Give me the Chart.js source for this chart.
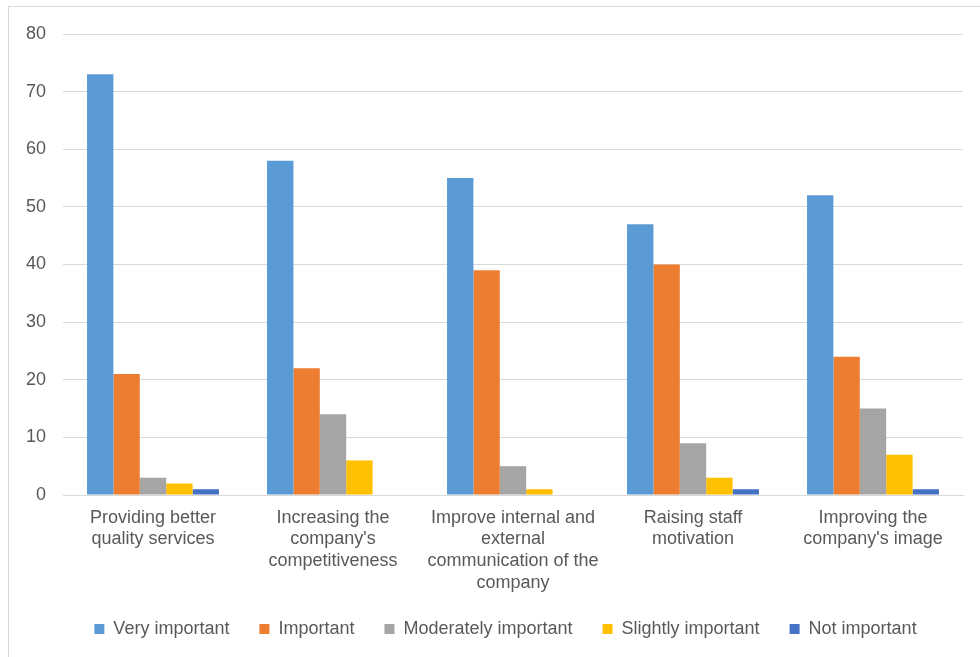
<!DOCTYPE html>
<html>
<head>
<meta charset="utf-8">
<script src="https://cdn.jsdelivr.net/npm/chart.js@4/dist/chart.umd.min.js"></script>
<style>
  html, body { margin: 0; padding: 0; background: #fff; overflow: hidden; }
  #frame { position: absolute; left: 8px; top: 6px; width: 1000px; height: 700px; border: 1px solid #d9d9d9; box-sizing: border-box; }
  #wrap { position: absolute; left: 0; top: 0; width: 980px; height: 657px; }
</style>
</head>
<body>
<div id="frame"></div>
<div id="wrap"><canvas id="c" width="980" height="657"></canvas></div>
<script>
const categories = [
  ["Providing better", "quality services"],
  ["Increasing the", "company's", "competitiveness"],
  ["Improve internal and", "external", "communication of the", "company"],
  ["Raising staff", "motivation"],
  ["Improving the", "company's image"]
];
const seriesNames = ["Very important", "Important", "Moderately important", "Slightly important", "Not important"];
const veryImportant = [73, 58, 55, 47, 52];
const important = [21, 22, 39, 40, 24];
const moderatelyImportant = [3, 14, 5, 9, 15];
const slightlyImportant = [2, 6, 1, 3, 7];
const notImportant = [1, 0, 0, 1, 1];
const seriesColors = ["#5B9BD5", "#ED7D31", "#A5A5A5", "#FFC000", "#4472C4"];
const seriesValues = [veryImportant, important, moderatelyImportant, slightlyImportant, notImportant];

const font = { family: "'Liberation Sans', Arial, sans-serif", size: 18 };
const textColor = "#595959";

const legendShift = {
  id: "legendShift",
  afterLayout(chart) {
    const lg = chart.legend;
    if (!lg) return;
    lg.left += 24; lg.right += 24;
    lg.top -= 19; lg.bottom -= 19;
  }
};

new Chart(document.getElementById("c"), {
  type: "bar",
  data: {
    labels: categories,
    datasets: seriesNames.map((name, i) => ({
      label: name,
      data: seriesValues[i],
      backgroundColor: seriesColors[i],
      borderWidth: 0,
      categoryPercentage: 0.733,
      barPercentage: 1
    }))
  },
  options: {
    responsive: false,
    animation: false,
    layout: { padding: { left: 0, right: 17, top: 34, bottom: -10 } },
    plugins: {
      legend: {
        position: "bottom",
        labels: { boxWidth: 10, boxHeight: 10, padding: 30, color: textColor, font: font },
        onClick: null
      },
      tooltip: { enabled: false }
    },
    scales: {
      y: {
        min: 0, max: 80,
        ticks: { stepSize: 10, color: textColor, font: font, padding: 17 },
        grid: { color: "#d9d9d9", lineWidth: 1, drawTicks: false },
        border: { display: false },
        afterFit: s => { s.width = 63; }
      },
      x: {
        ticks: { color: textColor, font: font, padding: 12, maxRotation: 0, autoSkip: false },
        grid: { display: false, drawTicks: false },
        border: { display: true, color: "#d9d9d9", width: 1 },
        afterFit: s => { s.height = 114; }
      }
    }
  },
  plugins: [legendShift]
});
</script>
</body>
</html>
